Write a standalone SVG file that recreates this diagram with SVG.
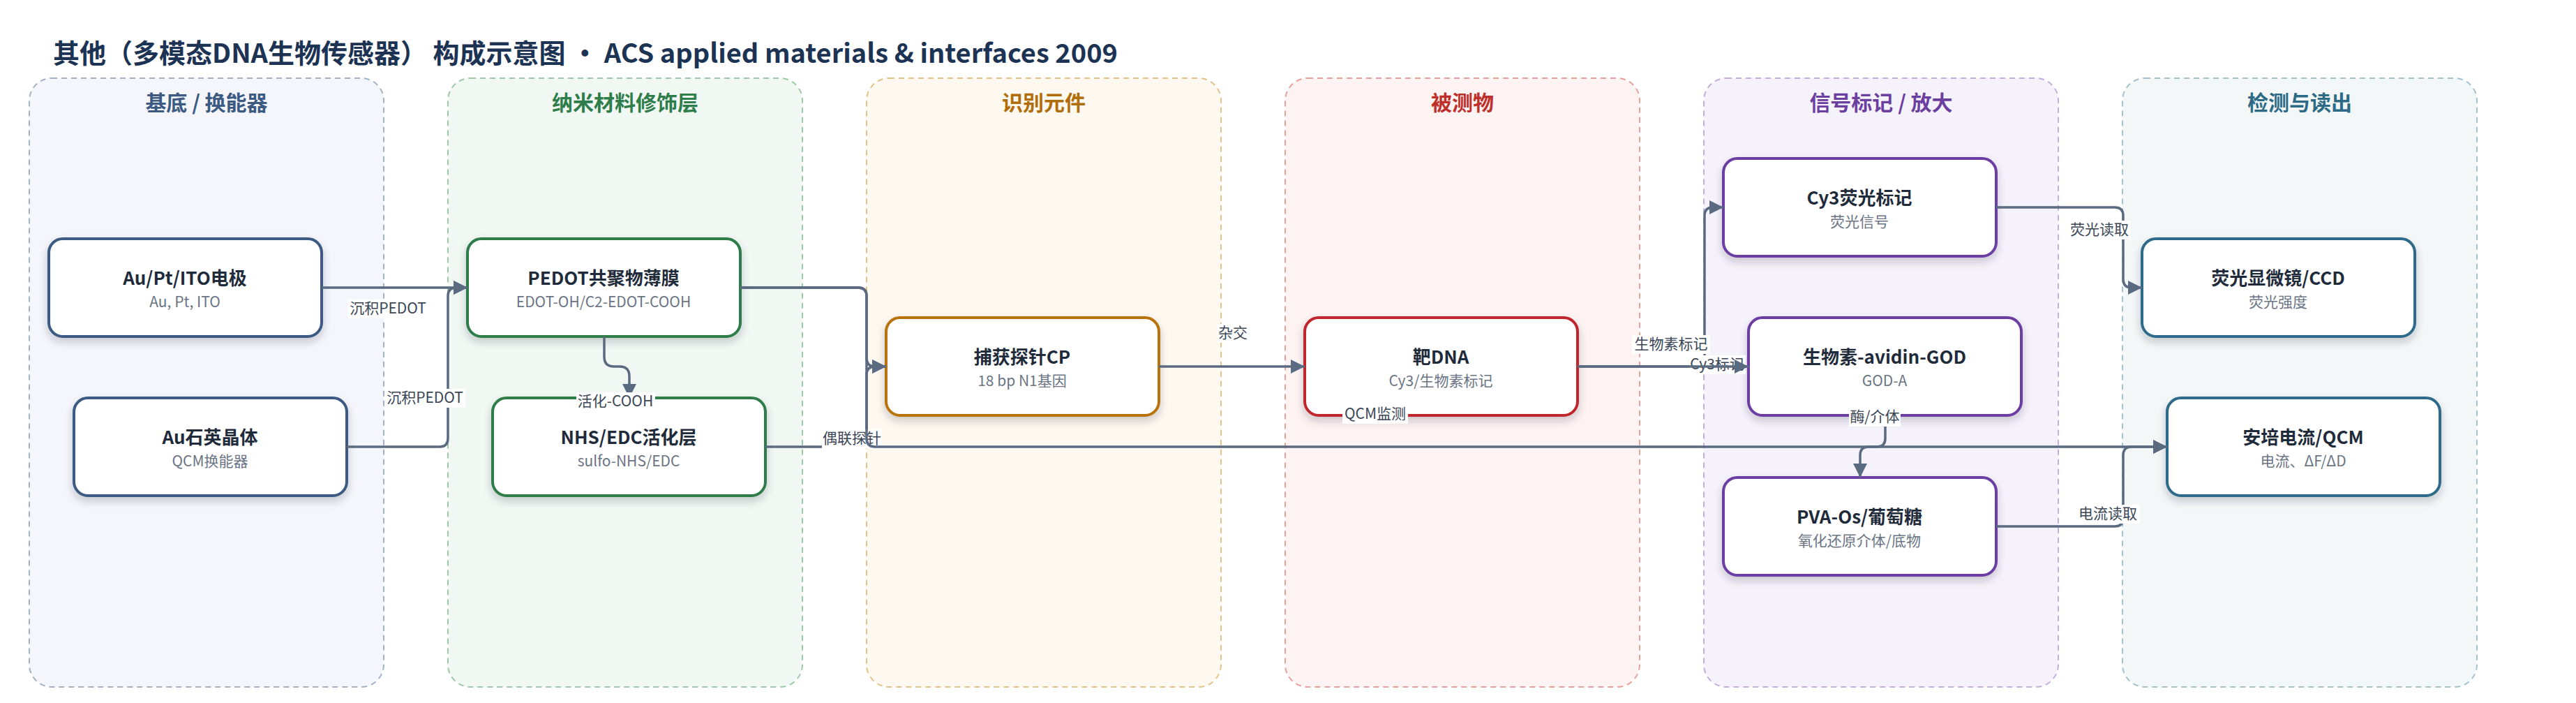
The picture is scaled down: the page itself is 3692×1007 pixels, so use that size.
<svg xmlns="http://www.w3.org/2000/svg" width="3692" height="1007" viewBox="0 0 3692 1007">
<defs>
<filter id="sh" x="-10%" y="-10%" width="120%" height="140%">
<feDropShadow dx="0" dy="6" stdDeviation="6" flood-color="#1e2a3a" flood-opacity="0.22"/>
</filter>
<marker id="ah" markerUnits="userSpaceOnUse" markerWidth="22" markerHeight="22" refX="20" refY="10" orient="auto">
<path d="M0,0 L20,10 L0,20 z" fill="#5a6a80"/>
</marker>
<style>
text{font-family:"Noto Sans CJK SC","Noto Sans",sans-serif;}
.title{font-size:38px;font-weight:700;fill:#1d3354;}
.lane{stroke-width:2;stroke-dasharray:8 6;}
.lt{font-size:30px;font-weight:700;text-anchor:middle;}
.node{fill:#fff;stroke-width:4;filter:url(#sh);}
.nt{font-size:26px;font-weight:700;fill:#1f2b3a;text-anchor:middle;}
.ns{font-size:21px;fill:#6a7484;text-anchor:middle;}
.e{fill:none;stroke:#5a6a80;stroke-width:3.5;marker-end:url(#ah);}
.lb{fill:#fff;}
.el{font-size:21px;fill:#3a4656;text-anchor:middle;}
</style>
</defs>
<rect width="3692" height="1007" fill="#fff"/>
<text class="title" x="76" y="90" xml:space="preserve">其他（多模态DNA生物传感器） 构成示意图 · ACS applied materials &amp; interfaces 2009</text>

<g id="lanes">
<g id="lane-substrate"><rect class="lane" x="42" y="112" width="508" height="872" rx="32" fill="#f4f6fb" stroke="#a3b1c6"/><text class="lt" x="296" y="158" fill="#3c5a82">基底 / 换能器</text></g>
<g id="lane-nano"><rect class="lane" x="642" y="112" width="508" height="872" rx="32" fill="#f1f8f3" stroke="#9ccaa9"/><text class="lt" x="896" y="158" fill="#2e7d4a">纳米材料修饰层</text></g>
<g id="lane-recog"><rect class="lane" x="1242" y="112" width="508" height="872" rx="32" fill="#fdf8f0" stroke="#e5c28a"/><text class="lt" x="1496" y="158" fill="#b06d0a">识别元件</text></g>
<g id="lane-analyte"><rect class="lane" x="1842" y="112" width="508" height="872" rx="32" fill="#fdf3f2" stroke="#e8a09b"/><text class="lt" x="2096" y="158" fill="#bf2f2a">被测物</text></g>
<g id="lane-signal"><rect class="lane" x="2442" y="112" width="508" height="872" rx="32" fill="#f6f2fb" stroke="#c4addf"/><text class="lt" x="2696" y="158" fill="#6b3fa0">信号标记 / 放大</text></g>
<g id="lane-readout"><rect class="lane" x="3042" y="112" width="508" height="872" rx="32" fill="#f3f7f8" stroke="#a4c2cd"/><text class="lt" x="3296" y="158" fill="#2d6a86">检测与读出</text></g>
</g>

<g id="nodes">
<g id="n-electrode"><rect class="node" x="70" y="342" width="391" height="140" rx="20" stroke="#3e5a82"/><text class="nt" x="265" y="408">Au/Pt/ITO电极</text><text class="ns" x="265" y="440">Au, Pt, ITO</text></g>
<g id="n-quartz"><rect class="node" x="106" y="570" width="391" height="140" rx="20" stroke="#3e5a82"/><text class="nt" x="301" y="636">Au石英晶体</text><text class="ns" x="301" y="668">QCM换能器</text></g>
<g id="n-pedot"><rect class="node" x="670" y="342" width="391" height="140" rx="20" stroke="#2e7d4a"/><text class="nt" x="865" y="408">PEDOT共聚物薄膜</text><text class="ns" x="865" y="440">EDOT-OH/C2-EDOT-COOH</text></g>
<g id="n-nhs"><rect class="node" x="706" y="570" width="391" height="140" rx="20" stroke="#2e7d4a"/><text class="nt" x="901" y="636">NHS/EDC活化层</text><text class="ns" x="901" y="668">sulfo-NHS/EDC</text></g>
<g id="n-cp"><rect class="node" x="1270" y="455" width="391" height="140" rx="20" stroke="#b8730c"/><text class="nt" x="1465" y="521">捕获探针CP</text><text class="ns" x="1465" y="553">18 bp N1基因</text></g>
<g id="n-target"><rect class="node" x="1870" y="455" width="391" height="140" rx="20" stroke="#c0282d"/><text class="nt" x="2065" y="521">靶DNA</text><text class="ns" x="2065" y="553">Cy3/生物素标记</text></g>
<g id="n-cy3"><rect class="node" x="2470" y="227" width="391" height="140" rx="20" stroke="#6c3ea3"/><text class="nt" x="2665" y="293">Cy3荧光标记</text><text class="ns" x="2665" y="325">荧光信号</text></g>
<g id="n-god"><rect class="node" x="2506" y="455" width="391" height="140" rx="20" stroke="#6c3ea3"/><text class="nt" x="2701" y="521">生物素-avidin-GOD</text><text class="ns" x="2701" y="553">GOD-A</text></g>
<g id="n-pva"><rect class="node" x="2470" y="684" width="391" height="140" rx="20" stroke="#6c3ea3"/><text class="nt" x="2665" y="750">PVA-Os/葡萄糖</text><text class="ns" x="2665" y="782">氧化还原介体/底物</text></g>
<g id="n-ccd"><rect class="node" x="3070" y="342" width="391" height="140" rx="20" stroke="#2f6b8a"/><text class="nt" x="3265" y="408">荧光显微镜/CCD</text><text class="ns" x="3265" y="440">荧光强度</text></g>
<g id="n-qcm"><rect class="node" x="3106" y="570" width="391" height="140" rx="20" stroke="#2f6b8a"/><text class="nt" x="3301" y="636">安培电流/QCM</text><text class="ns" x="3301" y="668">电流、ΔF/ΔD</text></g>
</g>

<g id="connectors">
<path class="e" d="M461,412 H670"/>
<rect class="lb" x="499" y="429" width="115" height="27"/><text class="el" x="556" y="449">沉积PEDOT</text>
<path class="e" d="M497,640 H630 Q642,640 642,628 V424 Q642,412 654,412 H670"/>
<rect class="lb" x="551" y="557" width="116" height="27"/><text class="el" x="609" y="577">沉积PEDOT</text>
<path class="e" d="M866,482 V511 Q866,525 880,525 H888 Q902,525 902,539 V570"/>
<rect class="lb" x="826" y="562" width="113" height="27"/><text class="el" x="882" y="582">活化-COOH</text>
<path class="e" d="M1061,412 H1230 Q1242,412 1242,424 V513 Q1242,525 1254,525 H1270"/>
<path class="e" d="M1097,640 H1230 Q1242,640 1242,628 V537 Q1242,525 1254,525 H1270"/>
<rect class="lb" x="1178" y="615" width="86" height="27"/><text class="el" x="1221" y="635">偶联探针</text>
<path class="e" d="M1061,412 H1230 Q1242,412 1242,424 V628 Q1242,640 1254,640 H3106"/>
<rect class="lb" x="1924" y="580" width="94" height="27"/><text class="el" x="1971" y="600">QCM监测</text>
<path class="e" d="M1661,525 H1870"/>
<rect class="lb" x="1744" y="464" width="46" height="27"/><text class="el" x="1767" y="484">杂交</text>
<path class="e" d="M2261,525 H2431 Q2443,525 2443,513 V309 Q2443,297 2455,297 H2470"/>
<rect class="lb" x="2421" y="509" width="81" height="27"/><text class="el" x="2461" y="529">Cy3标记</text>
<path class="e" d="M2261,525 H2506"/>
<rect class="lb" x="2339" y="480" width="112" height="27"/><text class="el" x="2395" y="500">生物素标记</text>
<path class="e" d="M2702,595 V628 Q2702,640 2690,640 H2678 Q2666,640 2666,652 V684"/>
<rect class="lb" x="2650" y="584" width="74" height="27"/><text class="el" x="2687" y="604">酶/介体</text>
<path class="e" d="M2861,297 H3031 Q3043,297 3043,309 V400 Q3043,412 3055,412 H3070"/>
<rect class="lb" x="2964" y="316" width="90" height="27"/><text class="el" x="3009" y="336">荧光读取</text>
<path class="e" d="M2861,754 H3031 Q3043,754 3043,742 V652 Q3043,640 3055,640 H3106"/>
<rect class="lb" x="2976" y="723" width="91" height="27"/><text class="el" x="3021" y="743">电流读取</text>
</g>
</svg>
